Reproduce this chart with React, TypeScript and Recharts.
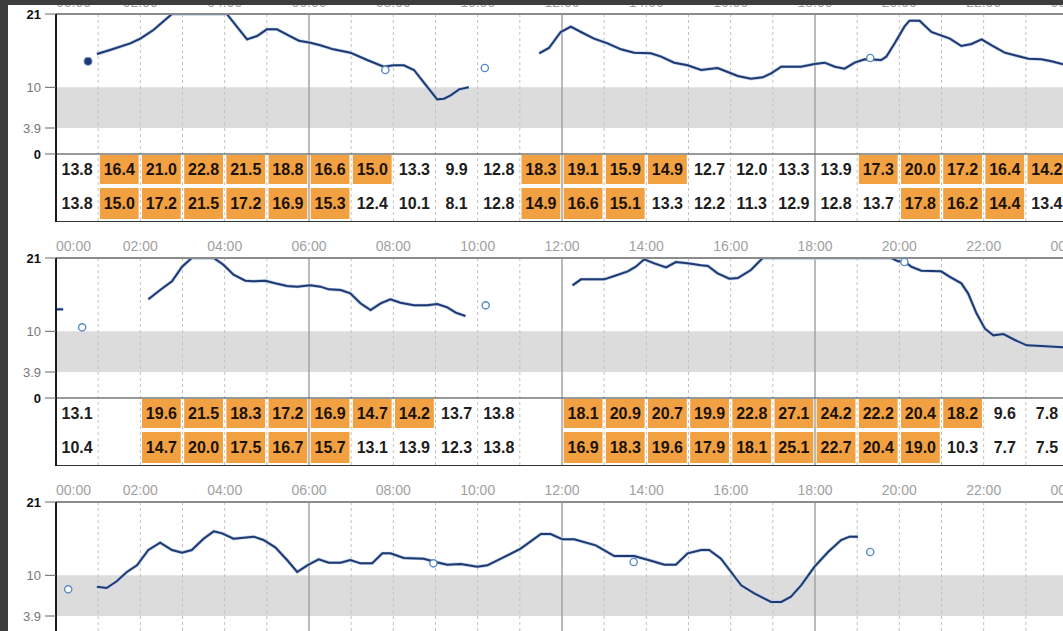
import {
  ComposedChart,
  Line,
  ReferenceArea,
  ReferenceLine,
  Scatter,
  XAxis,
  YAxis,
} from "recharts";

type Pt = [number, number];

// axis ticks
const TIME_TICKS = [0, 2, 4, 6, 8, 10, 12, 14, 16, 18, 20, 22, 24];
const GRID_HOURS = [1, 2, 3, 4, 5, 7, 8, 9, 10, 11, 13, 14, 15, 16, 17, 19, 20, 21, 22, 23];
const MAJOR_HOURS = [6, 12, 18];
const Y_TICKS = [0, 3.9, 10, 21];
const TARGET_LOW = 3.9;
const TARGET_HIGH = 10;
const HIGH_MARK = 14;

// day 1 sensor trace (hour, mmol/L)
const day1Morning: Pt[] = [
  [0.97, 15.0], [1.28, 15.6], [1.76, 16.6], [2.0, 17.3], [2.31, 18.6], [2.75, 21],
  [4.05, 21], [4.53, 17.2], [4.77, 17.7], [5.0, 18.7], [5.24, 18.7], [5.48, 17.9],
  [5.76, 17.0], [6.03, 16.7], [6.27, 16.3], [6.58, 15.7], [6.98, 15.2], [7.38, 14.1],
  [7.77, 13.1], [8.01, 13.3], [8.25, 13.3], [8.49, 12.6], [8.8, 10.1], [9.04, 8.2],
  [9.2, 8.3], [9.36, 8.8], [9.56, 9.7], [9.79, 10.0],
];
const day1Afternoon: Pt[] = [
  [11.46, 15.1], [11.69, 15.9], [11.97, 18.3], [12.21, 19.1], [12.45, 18.3], [12.76, 17.3],
  [13.08, 16.6], [13.4, 15.7], [13.71, 15.2], [14.11, 15.1], [14.35, 14.6], [14.66, 13.7],
  [14.98, 13.3], [15.3, 12.6], [15.69, 12.9], [15.93, 12.3], [16.17, 11.7], [16.48, 11.3],
  [16.76, 11.5], [16.96, 12.1], [17.2, 13.1], [17.67, 13.1], [17.99, 13.5], [18.23, 13.7],
  [18.47, 13.1], [18.7, 12.8], [18.94, 13.7], [19.18, 14.2], [19.57, 14.1], [19.69, 14.6],
  [19.89, 16.6], [20.12, 19.1], [20.24, 20.0], [20.48, 20.0], [20.76, 18.3], [21.2, 17.3],
  [21.47, 16.2], [21.71, 16.5], [21.95, 17.2], [22.19, 16.3], [22.5, 15.2], [22.74, 14.8],
  [23.06, 14.3], [23.37, 14.2], [23.61, 13.9], [23.92, 13.4],
];
const day1Meter: Pt[] = [[7.81, 12.6], [10.17, 12.9], [19.31, 14.4]];
const day1Start: Pt[] = [[0.76, 13.9]];
const day1Avg = [13.8, 16.4, 21.0, 22.8, 21.5, 18.8, 16.6, 15.0, 13.3, 9.9, 12.8, 18.3, 19.1, 15.9, 14.9, 12.7, 12.0, 13.3, 13.9, 17.3, 20.0, 17.2, 16.4, 14.2];
const day1Median = [13.8, 15.0, 17.2, 21.5, 17.2, 16.9, 15.3, 12.4, 10.1, 8.1, 12.8, 14.9, 16.6, 15.1, 13.3, 12.2, 11.3, 12.9, 12.8, 13.7, 17.8, 16.2, 14.4, 13.4];

// day 2
const day2Carry: Pt[] = [[0, 13.3], [0.17, 13.3]];
const day2Morning: Pt[] = [
  [2.19, 14.8], [2.47, 16.2], [2.75, 17.5], [2.99, 19.7], [3.22, 21], [3.74, 21],
  [3.97, 20.0], [4.21, 18.5], [4.49, 17.6], [4.69, 17.5], [4.96, 17.6], [5.2, 17.2],
  [5.48, 16.8], [5.72, 16.7], [6.03, 16.9], [6.27, 16.7], [6.47, 16.3], [6.75, 16.2],
  [6.98, 15.7], [7.22, 14.2], [7.46, 13.2], [7.7, 14.2], [7.93, 14.8], [8.17, 14.3],
  [8.49, 13.9], [8.8, 13.9], [9.04, 14.1], [9.28, 13.6], [9.48, 12.8], [9.71, 12.3],
];
const day2Afternoon: Pt[] = [
  [12.25, 16.9], [12.45, 17.8], [13.0, 17.8], [13.24, 18.3], [13.56, 19.0], [13.75, 19.7],
  [13.95, 20.8], [14.19, 20.2], [14.47, 19.6], [14.7, 20.4], [14.98, 20.2], [15.3, 19.9],
  [15.46, 19.8], [15.69, 18.7], [15.97, 17.9], [16.17, 18.0], [16.48, 19.2], [16.76, 21],
  [19.81, 21], [19.97, 20.5], [20.12, 20.5], [20.28, 19.7], [20.52, 19.1], [20.99, 19.0],
  [21.19, 18.2], [21.47, 17.2], [21.63, 15.7], [21.83, 12.7], [22.03, 10.4], [22.23, 9.4],
  [22.47, 9.6], [22.74, 8.7], [23.02, 7.9], [23.37, 7.8], [23.92, 7.6],
];
const day2Meter: Pt[] = [[0.62, 10.6], [10.19, 13.9], [20.12, 20.4]];
const day2Avg = [13.1, null, 19.6, 21.5, 18.3, 17.2, 16.9, 14.7, 14.2, 13.7, 13.8, null, 18.1, 20.9, 20.7, 19.9, 22.8, 27.1, 24.2, 22.2, 20.4, 18.2, 9.6, 7.8];
const day2Median = [10.4, null, 14.7, 20.0, 17.5, 16.7, 15.7, 13.1, 13.9, 12.3, 13.8, null, 16.9, 18.3, 19.6, 17.9, 18.1, 25.1, 22.7, 20.4, 19.0, 10.3, 7.7, 7.5];

// day 3
const day3Trace: Pt[] = [
  [0.97, 8.3], [1.2, 8.1], [1.44, 9.1], [1.68, 10.5], [1.92, 11.5], [2.19, 13.8],
  [2.47, 14.9], [2.75, 13.8], [2.99, 13.4], [3.22, 13.8], [3.5, 15.5], [3.74, 16.6],
  [3.94, 16.3], [4.21, 15.5], [4.69, 15.8], [4.92, 15.3], [5.2, 14.2], [5.48, 12.3],
  [5.72, 10.5], [5.96, 11.5], [6.23, 12.4], [6.47, 11.9], [6.75, 11.9], [6.98, 12.3],
  [7.22, 11.8], [7.5, 11.8], [7.74, 13.3], [7.93, 13.3], [8.25, 12.6], [8.72, 12.5],
  [9.0, 12.0], [9.28, 11.6], [9.6, 11.7], [9.99, 11.3], [10.23, 11.5], [10.55, 12.5],
  [11.02, 14.0], [11.5, 16.2], [11.73, 16.2], [12.01, 15.4], [12.29, 15.4], [12.8, 14.5],
  [13.24, 12.9], [13.71, 12.9], [14.11, 12.2], [14.43, 11.6], [14.7, 11.6], [14.98, 13.3],
  [15.3, 13.8], [15.49, 13.8], [15.77, 12.5], [16.01, 10.5], [16.25, 8.5], [16.56, 7.3],
  [16.96, 6.0], [17.2, 6.0], [17.43, 6.8], [17.67, 8.5], [17.99, 11.3], [18.31, 13.5],
  [18.62, 15.3], [18.82, 15.8], [19.02, 15.8],
];
const day3Meter: Pt[] = [[0.29, 7.9], [8.95, 11.8], [13.7, 12.0], [19.31, 13.5]];

const FONT = '"Liberation Sans", Arial, Helvetica, sans-serif';
const ORANGE = "#f2a142";
const NAVY = "#1f3a72";
const ROW_BANDS: [number, number][] = [
  [-0.15, -4.5],
  [-5.1, -9.75],
];
const Y_MIN = -10.2;

const toRows = (pts: Pt[]) => pts.map(([h, v]) => ({ h, v }));
const hourLabel = (h: number) => `${String(h % 24).padStart(2, "0")}:00`;

function XTick(props: any) {
  const { x, y, payload, index } = props;
  return (
    <text
      x={x}
      y={y}
      dy={1}
      textAnchor={index === 0 ? "start" : "middle"}
      fontSize={14}
      fill="#9f9f9f"
      fontFamily={FONT}
    >
      {hourLabel(payload.value)}
    </text>
  );
}

function YTick(props: any) {
  const { x, y, payload } = props;
  const strong = payload.value === 21 || payload.value === 0;
  return (
    <text
      x={x}
      y={y}
      dy={5}
      textAnchor="end"
      fontSize={13}
      fontWeight={strong ? 700 : 400}
      fill={strong ? "#111" : "#777"}
      fontFamily={FONT}
    >
      {payload.value}
    </text>
  );
}

type PanelProps = {
  segments: Pt[][];
  meter: Pt[];
  start?: Pt[];
  hourly?: (number | null)[][];
};

function DayPanel({ segments, meter, start = [], hourly = [] }: PanelProps) {
  return (
    <ComposedChart width={1100} height={244} margin={{ top: 0, right: 32, bottom: 0, left: 0 }}>
      <XAxis
        dataKey="h"
        type="number"
        orientation="top"
        domain={[0, 24]}
        ticks={TIME_TICKS}
        interval={0}
        height={36}
        tickLine={false}
        axisLine={{ stroke: "#8c8c8c", strokeWidth: 2 }}
        tick={<XTick />}
        allowDataOverflow
      />
      <YAxis
        type="number"
        domain={[Y_MIN, 21]}
        ticks={Y_TICKS}
        interval={0}
        width={56}
        tickSize={11}
        tickMargin={4}
        axisLine={{ stroke: "#1a1a1a", strokeWidth: 2 }}
        tickLine={{ stroke: "#666" }}
        tick={<YTick />}
        allowDataOverflow
      />
      <ReferenceArea y1={TARGET_LOW} y2={TARGET_HIGH} x1={0} x2={24} fill="#dcdcdc" fillOpacity={1} stroke="none" />
      {hourly.map((row, r) =>
        row.map((val, i) =>
          val == null ? null : (
            <ReferenceArea
              key={`c${r}-${i}`}
              x1={i + 0.04}
              x2={i + 0.96}
              y1={ROW_BANDS[r][0]}
              y2={ROW_BANDS[r][1]}
              fill={val > HIGH_MARK ? ORANGE : "none"}
              fillOpacity={1}
              stroke="none"
              label={{
                value: val.toFixed(1),
                position: "center",
                fill: val > HIGH_MARK ? "#1a1208" : "#1d1d1d",
                fontSize: 16,
                fontWeight: 700,
                fontFamily: FONT,
              }}
            />
          ),
        ),
      )}
      {GRID_HOURS.map((h) => (
        <ReferenceLine key={`g${h}`} x={h} stroke="#c2c2c2" strokeDasharray="3 3" />
      ))}
      {MAJOR_HOURS.map((h) => (
        <ReferenceLine key={`m${h}`} x={h} stroke="#a3a3a3" strokeWidth={1.5} />
      ))}
      <ReferenceLine y={0} stroke="#777" strokeWidth={1.5} />
      <ReferenceLine y={Y_MIN} stroke="#333" strokeWidth={2} />
      {segments.map((seg, i) => (
        <Line
          key={`halo${i}`}
          data={toRows(seg)}
          dataKey="v"
          type="linear"
          stroke="#bccfe8"
          strokeWidth={3.4}
          dot={false}
          activeDot={false}
          isAnimationActive={false}
        />
      ))}
      {segments.map((seg, i) => (
        <Line
          key={`s${i}`}
          data={toRows(seg)}
          dataKey="v"
          type="linear"
          stroke={NAVY}
          strokeWidth={2}
          dot={false}
          activeDot={false}
          isAnimationActive={false}
        />
      ))}
      <Scatter
        data={toRows(meter)}
        dataKey="v"
        isAnimationActive={false}
        shape={(p: any) => <circle cx={p.cx} cy={p.cy} r={3.6} fill="#fff" stroke="#5a8ac6" strokeWidth={1.4} />}
      />
      {start.length > 0 && (
        <Scatter
          data={toRows(start)}
          dataKey="v"
          isAnimationActive={false}
          shape={(p: any) => <circle cx={p.cx} cy={p.cy} r={4} fill={NAVY} stroke="#5a8ac6" strokeWidth={1} />}
        />
      )}
    </ComposedChart>
  );
}

export default function App() {
  return (
    <div
      style={{
        position: "relative",
        width: 1063,
        height: 631,
        overflow: "hidden",
        background: "#fff",
        fontFamily: FONT,
      }}
    >
      <style>{"body{margin:0}"}</style>
      <div style={{ position: "absolute", left: 0, top: -22 }}>
        <DayPanel
          segments={[day1Morning, day1Afternoon]}
          meter={day1Meter}
          start={day1Start}
          hourly={[day1Avg, day1Median]}
        />
        <DayPanel
          segments={[day2Carry, day2Morning, day2Afternoon]}
          meter={day2Meter}
          hourly={[day2Avg, day2Median]}
        />
        <DayPanel segments={[day3Trace]} meter={day3Meter} />
      </div>
      <div style={{ position: "absolute", left: 0, top: 0, width: 8, height: 631, background: "#3d3d3d" }} />
      <div style={{ position: "absolute", left: 0, top: 0, width: 1063, height: 5, background: "#3d3d3d" }} />
    </div>
  );
}
